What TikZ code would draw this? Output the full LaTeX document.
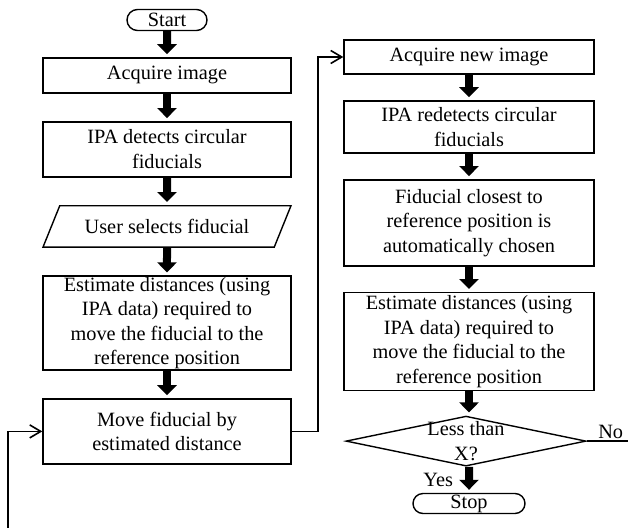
\documentclass[tikz,border=0pt]{standalone}
\usepackage{fontspec}
\setmainfont{Liberation Serif}
\usetikzlibrary{shapes.geometric,shapes.misc,arrows.meta,positioning}

\begin{document}
\begin{tikzpicture}[
    x=1pt, y=-1pt,
    node distance=27.5pt,
    box/.style={rectangle, draw, line width=1.4pt, minimum width=248pt, inner xsep=4pt, inner ysep=1pt, font=\fontsize{20.3}{24.5}\selectfont, text centered, align=center},
    io/.style={box, trapezium, trapezium left angle=68, trapezium right angle=112, trapezium stretches body, inner ysep=13.5pt},
    terminal/.style={rounded rectangle, draw, line width=1.4pt, inner sep=0pt, minimum height=21pt, font=\fontsize{20.3}{24.5}\selectfont},
    decision/.style={diamond, draw, line width=1.4pt, inner sep=0pt, minimum width=240pt, minimum height=50pt},
    arrow/.style={-{Triangle[width=19pt,length=10pt]}, line width=8pt, shorten >=3pt},
    flow/.style={-{Straight Barb[length=11pt,width=13pt]}, line width=1.6pt},
    tag/.style={font=\fontsize{20.3}{24.5}\selectfont, inner sep=2pt}
]
\useasboundingbox (0,0) rectangle (628,527);
\clip (0,0) rectangle (628,527);

% Setup column
\node[terminal, minimum width=80pt] (start) at (167,20) {Start};
\node[box, below=26pt of start, minimum height=35pt] (acquire) {Acquire image};
\node[box, below=of acquire, minimum height=55pt] (detect) {IPA detects circular\\fiducials};
\node[io, below=of detect] (select) {User selects fiducial};
\node[box, below=of select, minimum height=93pt] (estimate) {Estimate distances (using\\IPA data) required to\\move the fiducial to the\\reference position};
\node[box, below=of estimate, minimum height=65pt] (move) {Move fiducial by\\estimated distance};

% Correction column
\node[box, minimum width=250pt, minimum height=34pt] (acqnew) at (469,57) {Acquire new image};
\node[box, minimum width=250pt, below=25.5pt of acqnew, minimum height=52pt] (redetect) {IPA redetects circular\\fiducials};
\node[box, minimum width=250pt, below=25.5pt of redetect, minimum height=86pt] (closest) {Fiducial closest to\\reference position is\\automatically chosen};
\node[box, minimum width=250pt, below=25.5pt of closest, minimum height=98pt] (reestimate) {Estimate distances (using\\IPA data) required to\\move the fiducial to the\\reference position};
\node[decision, below=24pt of reestimate, xshift=-3pt, label={[tag, align=center]center:Less than\\X?}] (check) {};
\node[terminal, minimum width=112pt, minimum height=20pt, below=26pt of check, xshift=3pt] (stop) {Stop};

% Arrows
\draw[arrow] (start) -- (acquire);
\draw[arrow] (acquire) -- (detect);
\draw[arrow] (detect) -- (select);
\draw[arrow] (select) -- (estimate);
\draw[arrow] (estimate) -- (move);
\draw[arrow] (acqnew) -- (redetect);
\draw[arrow] (redetect) -- (closest);
\draw[arrow] (closest) -- (reestimate);
\draw[arrow] (reestimate) -- (reestimate |- check.north);
\draw[arrow] (check.south -| stop) -- node[tag, left=10pt] {Yes} (stop);

% Loops
\draw[flow] (move.east) -- ++(26,0) |- (acqnew.west);
\draw[flow] (check.east) -- node[tag, above, pos=0.4] {No} ++(60,0) |- (8,545) |- (move.west);
\end{tikzpicture}
\end{document}
